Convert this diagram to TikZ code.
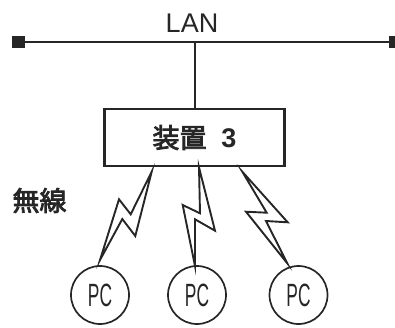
\documentclass[tikz,border=0pt]{standalone}
\usepackage{fontspec}
\setmainfont{Liberation Sans}
\newfontfamily\jpfont[FakeBold=3]{Noto Sans CJK JP}
\definecolor{ink}{HTML}{262626}
\tikzset{
  wire/.style={draw=ink,line width=2pt},
  bolt/.style={draw=ink,line width=1.9pt,line join=miter,miter limit=20},
  pcnode/.style={circle,draw=ink,line width=1.7pt,minimum size=58pt,inner sep=0pt,text=ink},
  devbox/.style={rectangle,draw=ink,line width=2.1pt,minimum width=180pt,minimum height=57pt,inner sep=0pt,text=ink},
  terminal/.style={fill=ink,draw=none},
  lbl/.style={text=ink,inner sep=0pt}
}
\newcommand{\pclabel}{\scalebox{0.62}[1.15]{\fontsize{28}{28}\selectfont PC}}
\begin{document}
\begin{tikzpicture}[x=1pt,y=-1pt]
\useasboundingbox (0,0) rectangle (395,327);
\coordinate (busL) at (18,42);
\coordinate (busR) at (392,42);
\coordinate (busT) at (195,42);
\node[devbox] (dev) at (194.5,137.5) {\fontsize{27}{27}\selectfont{\jpfont 装置}\ \ \bfseries 3};
\node[lbl] (lan) at (192,23) {\fontsize{27}{27}\selectfont LAN};
\node[lbl] (wl) at (39.5,200.5) {\fontsize{27}{27}\selectfont\jpfont 無線};
\node[pcnode] (pc1) at (100,295) {\pclabel};
\node[pcnode] (pc2) at (197,295) {\pclabel};
\node[pcnode] (pc3) at (298.5,295) {\pclabel};
\draw[wire] (busL) -- (busR);
\draw[wire] (busT) -- (dev.north -| busT);
\fill[terminal] (12,36) rectangle (25,48);
\fill[terminal] (389,36) rectangle (395,48);
\draw[bolt] (151.7,171.7) -- (130.7,214.3) -- (119,199.3) -- (100,260) -- (122.3,219) -- (135.3,236) -- cycle;
\draw[bolt] (199,167.3) -- (200,213.3) -- (182.7,205) -- (195,266) -- (195,219.3) -- (215,230.7) -- cycle;
\draw[bolt] (242.3,171.7) -- (266.7,212.7) -- (246,211.7) -- (287.3,263.3) -- (266,221) -- (287.7,222.3) -- cycle;
\end{tikzpicture}
\end{document}
